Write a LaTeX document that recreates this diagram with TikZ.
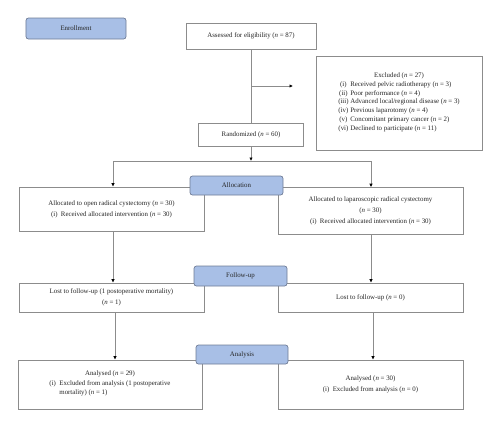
\documentclass[tikz,border=0pt]{standalone}
\usepackage{fontspec}
\setmainfont{Liberation Serif}
\usetikzlibrary{arrows.meta}
\definecolor{boxline}{HTML}{8C8C8C}
\definecolor{hdrfill}{HTML}{A8BFE6}
\definecolor{hdrline}{HTML}{6F7C96}
\newcommand\nn{\textit{n}}
\begin{document}
\begin{tikzpicture}[x=1bp,y=-1bp,
  every node/.style={font=\fontsize{6.9}{10.8}\selectfont, text=black!85},
  box/.style={draw=boxline, line width=0.7bp, fill=white, align=center, inner sep=2bp},
  hdr/.style={draw=hdrline, line width=0.7bp, fill=hdrfill, rounded corners=2.5bp, align=center, inner sep=1bp},
  conn/.style={draw=boxline, line width=0.7bp},
  arr/.style={conn, -{Latex[color=black,length=3.5bp,width=3.5bp]}}
]
\useasboundingbox (0,0) rectangle (500,427);

% boxes
\node[box, minimum width=130bp, minimum height=26bp] (assess) at (251,36) {Assessed for eligibility (\nn{} = 87)};
\node[box, minimum width=166bp, minimum height=94bp] (excl) at (399,103) {Excluded (\nn{} = 27)\\[-1bp]
  \begin{tabular}{@{}c@{\ }l@{}}
  (i) & Received pelvic radiotherapy (\nn{} = 3)\\[-2bp]
  (ii) & Poor performance (\nn{} = 4)\\[-2bp]
  (iii) & Advanced local/regional disease (\nn{} = 3)\\[-2bp]
  (iv) & Previous laparotomy (\nn{} = 4)\\[-2bp]
  (v) & Concomitant primary cancer (\nn{} = 2)\\[-2bp]
  (vi) & Declined to participate (\nn{} = 11)
  \end{tabular}};
\node[box, minimum width=105bp, minimum height=23bp] (rand) at (251,134.5) {Randomized (\nn{} = 60)};

\node[box, minimum width=185bp, minimum height=44bp] (allocL) at (111.5,209) {Allocated to open radical cystectomy (\nn{} = 30)\\(i)\ \ Received allocated intervention (\nn{} = 30)};
\node[box, minimum width=185bp, minimum height=47bp] (allocR) at (370.5,211) {Allocated to laparoscopic radical cystectomy\\(\nn{} = 30)\\(i)\ \ Received allocated intervention (\nn{} = 30)};

\node[box, minimum width=185bp, minimum height=29bp] (followL) at (111.5,297.5) {Lost to follow-up (1 postoperative mortality)\\(\nn{} = 1)};
\node[box, minimum width=185bp, minimum height=29bp] (followR) at (370.5,297.5) {Lost to follow-up (\nn{} = 0)};

\node[box, minimum width=184bp, minimum height=49bp] (anL) at (110,384.5) {Analysed (\nn{} = 29)\\
  \begin{tabular}{@{}l@{\ \ }l@{}}
  (i) & Excluded from analysis (1 postoperative\\[-2bp]
      & mortality) (\nn{} = 1)
  \end{tabular}};
\node[box, minimum width=185bp, minimum height=49bp] (anR) at (370.5,384.5) {Analysed (\nn{} = 30)\\(i)\ \ Excluded from analysis (\nn{} = 0)};

% stage headers
\node[hdr, minimum width=100bp, minimum height=21bp] (enrol) at (76,28.5) {Enrollment};
\node[hdr, minimum width=93bp, minimum height=19bp] (alloc) at (236.5,185.5) {Allocation};
\node[hdr, minimum width=93bp, minimum height=20bp] (follow) at (240.5,276) {Follow-up};
\node[hdr, minimum width=92bp, minimum height=19bp] (anal) at (242,354.5) {Analysis};

% connector coordinates
\coordinate (exbr) at (251,86);
\coordinate (exend) at (293,86);
\coordinate (split) at (251,161);
\coordinate (splitL) at (113,161);
\coordinate (splitR) at (371,161);

% connectors
\draw[conn] (assess.south) -- (rand.north);
\draw[arr] (exbr) -- (exend);
\draw[arr] (rand.south) -- (split);
\draw[conn] (splitL) -- (splitR);
\draw[arr] (splitL) -- (splitL |- allocL.north);
\draw[arr] (splitR) -- (splitR |- allocR.north);
\draw[arr] ([xshift=1.5bp]allocL.south) -- ([xshift=1.5bp]allocL.south |- followL.north);
\draw[arr] ([xshift=0.5bp]allocR.south) -- ([xshift=0.5bp]allocR.south |- followR.north);
\draw[arr] ([xshift=3.5bp]followL.south) -- ([xshift=3.5bp]followL.south |- anL.north);
\draw[arr] ([xshift=2.5bp]followR.south) -- ([xshift=2.5bp]followR.south |- anR.north);
\end{tikzpicture}
\end{document}
